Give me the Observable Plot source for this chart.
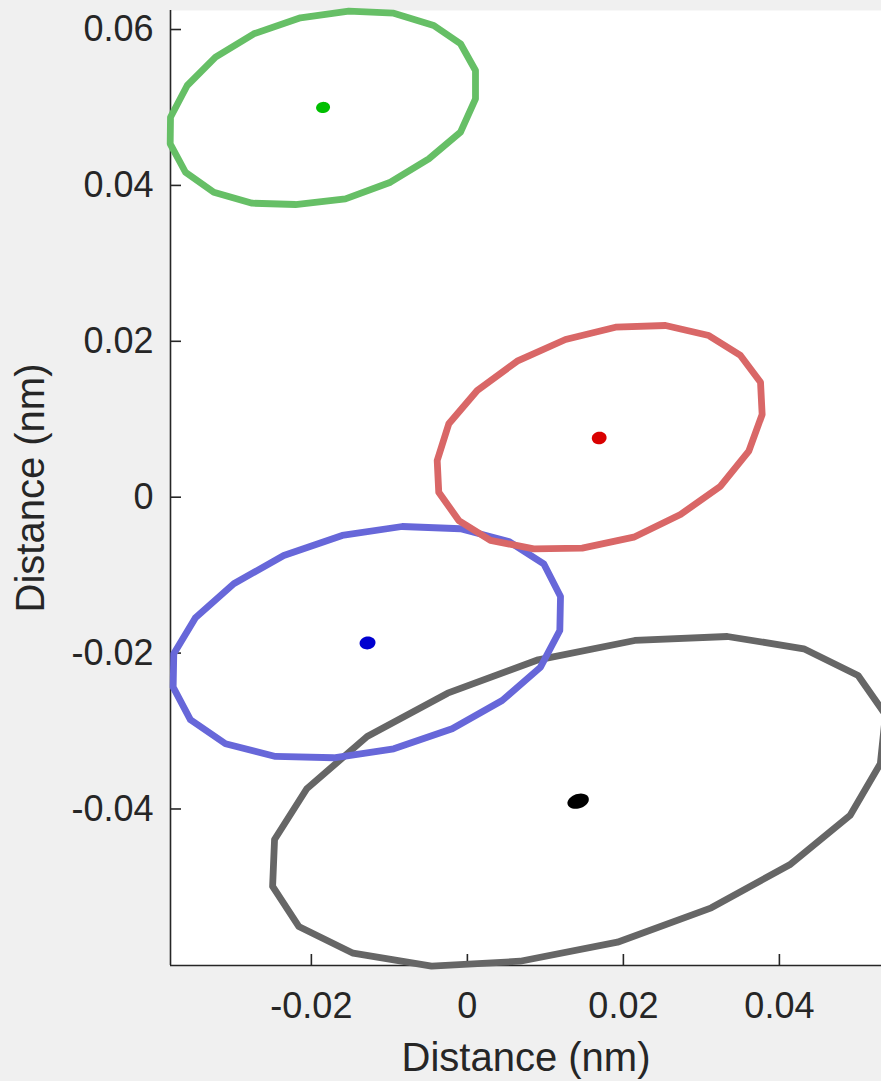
<!DOCTYPE html>
<html>
<head>
<meta charset="utf-8">
<script src="https://cdn.jsdelivr.net/npm/d3@7"></script>
<script src="https://cdn.jsdelivr.net/npm/@observablehq/plot@0.6"></script>
<style>
  html, body { margin: 0; padding: 0; background: #f0f0f0; overflow: hidden; }
</style>
</head>
<body>
<div id="chart"></div>
<script>
// Confidence-region outlines (polygon vertices, nm) for four positions
const greenX = [-0.03806, -0.03810, -0.03614, -0.03251, -0.02759, -0.02204, -0.01563, -0.00986, -0.00495, -0.00088, 0.00104, 0.00104, -0.00088, -0.00431, -0.00944, -0.01521, -0.02140, -0.02738, -0.03229, -0.03592];
const greenY = [0.04875, 0.04534, 0.04169, 0.03913, 0.03772, 0.03755, 0.03828, 0.04041, 0.04341, 0.04683, 0.05111, 0.05474, 0.05817, 0.06051, 0.06209, 0.06235, 0.06150, 0.05945, 0.05645, 0.05282];

const redX = [-0.00387, -0.00367, -0.00110, 0.00296, 0.00851, 0.01472, 0.02133, 0.02732, 0.03245, 0.03608, 0.03779, 0.03758, 0.03501, 0.03095, 0.02540, 0.01899, 0.01258, 0.00638, 0.00126, -0.00238];
const redY = [0.00471, 0.00064, -0.00299, -0.00555, -0.00662, -0.00654, -0.00513, -0.00222, 0.00141, 0.00590, 0.01061, 0.01475, 0.01818, 0.02074, 0.02203, 0.02181, 0.02023, 0.01745, 0.01369, 0.00942];

const blueX = [-0.03764, -0.03772, -0.03550, -0.03101, -0.02460, -0.01713, -0.00944, -0.00195, 0.00446, 0.00937, 0.01185, 0.01194, 0.00979, 0.00531, -0.00088, -0.00836, -0.01605, -0.02354, -0.02995, -0.03486];
const blueY = [-0.02009, -0.02437, -0.02856, -0.03164, -0.03326, -0.03343, -0.03228, -0.02971, -0.02608, -0.02181, -0.01710, -0.01274, -0.00854, -0.00568, -0.00405, -0.00376, -0.00491, -0.00748, -0.01111, -0.01547];

const grayX = [-0.02472, -0.02497, -0.02162, -0.01465, -0.00459, 0.00676, 0.01924, 0.03127, 0.04132, 0.04906, 0.05294, 0.05360, 0.05009, 0.04313, 0.03333, 0.02146, 0.00908, -0.00253, -0.01285, -0.02059];
const grayY = [-0.04391, -0.04994, -0.05507, -0.05850, -0.06017, -0.05953, -0.05709, -0.05268, -0.04716, -0.04083, -0.03420, -0.02790, -0.02287, -0.01945, -0.01787, -0.01838, -0.02086, -0.02514, -0.03070, -0.03741];

// Mean positions (nm): green, red, blue, black
const centerX = [-0.0185, 0.0169, -0.0128, 0.0142];
const centerY = [0.0500, 0.0076, -0.0187, -0.0390];

// Axis ticks and their labels
const xTicks = [-0.02, 0, 0.02, 0.04];
const xTickLabels = ["-0.02", "0", "0.02", "0.04"];
const yTicks = [-0.04, -0.02, 0, 0.02, 0.04, 0.06];
const yTickLabels = ["-0.04", "-0.02", "0", "0.02", "0.04", "0.06"];

const xLabel = "Distance (nm)";
const yLabel = "Distance (nm)";
const xDomain = [-0.03806, 0.05309];
const yDomain = [-0.06008, 0.06244];

// Layout
const W = 881, H = 1081;
const mL = 170, mR = 0, mT = 10, mB = 116;
const innerW = W - mL - mR, innerH = H - mT - mB;
const ink = "#262626";
const tickLen = 11;

const toPoints = (xs, ys) => xs.map((x, i) => ({x, y: ys[i]}));

const outlines = [
  {pts: toPoints(grayX, grayY), stroke: "#666666"},
  {pts: toPoints(blueX, blueY), stroke: "#6767d9"},
  {pts: toPoints(redX, redY), stroke: "#d96767"},
  {pts: toPoints(greenX, greenY), stroke: "#66bf66"}
];

// Small filled ellipse used for the centre markers
function ellipseSymbol(rx, ry, angleDeg) {
  const a = angleDeg * Math.PI / 180;
  return {
    draw(context) {
      const n = 40;
      for (let i = 0; i < n; ++i) {
        const t = 2 * Math.PI * i / n;
        const ex = rx * Math.cos(t), ey = ry * Math.sin(t);
        const px = ex * Math.cos(a) - ey * Math.sin(a);
        const py = ex * Math.sin(a) + ey * Math.cos(a);
        if (i === 0) context.moveTo(px, py); else context.lineTo(px, py);
      }
      context.closePath();
    }
  };
}
const centerStyles = [
  {fill: "#00bf00", symbol: ellipseSymbol(7, 5.6, -8)},
  {fill: "#d90000", symbol: ellipseSymbol(7.4, 6.3, -10)},
  {fill: "#0000d0", symbol: ellipseSymbol(8, 6.4, -8)},
  {fill: "#000000", symbol: ellipseSymbol(11, 7.2, -18)}
];

const chart = Plot.plot({
  width: W,
  height: H,
  marginLeft: mL, marginRight: mR, marginTop: mT, marginBottom: mB,
  style: {background: "#f0f0f0", fontFamily: "'Liberation Sans', Arial, Helvetica, sans-serif", color: ink, overflow: "hidden"},
  x: {domain: xDomain, axis: null},
  y: {domain: yDomain, axis: null},
  marks: [
    Plot.frame({fill: "white", stroke: null}),
    // axis lines and inward ticks sit beneath the data
    Plot.ruleX([xDomain[0]], {stroke: ink, strokeWidth: 1.6}),
    Plot.ruleY([yDomain[0]], {stroke: ink, strokeWidth: 1.6}),
    Plot.tickX(xTicks, {x: d => d, insetTop: innerH - tickLen, stroke: ink, strokeWidth: 1.6}),
    Plot.tickY(yTicks, {y: d => d, insetRight: innerW - tickLen, stroke: ink, strokeWidth: 1.6}),
    ...outlines.map(o => Plot.line(o.pts, {
      x: "x", y: "y", curve: "linear-closed",
      stroke: o.stroke, strokeWidth: 6.8, clip: false
    })),
    ...centerStyles.map((s, i) => Plot.dot([i], {
      x: j => centerX[j], y: j => centerY[j],
      symbol: s.symbol, fill: s.fill, stroke: null, r: 6
    })),
    Plot.axisX({
      ticks: xTicks, tickSize: 0, tickPadding: 27, fontSize: 36, color: ink,
      tickFormat: d => xTickLabels[xTicks.indexOf(d)], label: null
    }),
    Plot.axisY({
      ticks: yTicks, tickSize: 0, tickPadding: 17, fontSize: 36, color: ink,
      tickFormat: d => yTickLabels[yTicks.indexOf(d)], label: null
    }),
    Plot.text([xLabel], {
      text: d => d, frameAnchor: "bottom", lineAnchor: "bottom",
      dy: 105, fontSize: 40, fill: ink
    }),
    Plot.text([yLabel], {
      text: d => d, frameAnchor: "left", textAnchor: "middle", lineAnchor: "bottom", rotate: -90,
      dx: -126.5, fontSize: 40, fill: ink
    })
  ]
});

document.getElementById("chart").appendChild(chart);
</script>
</body>
</html>
